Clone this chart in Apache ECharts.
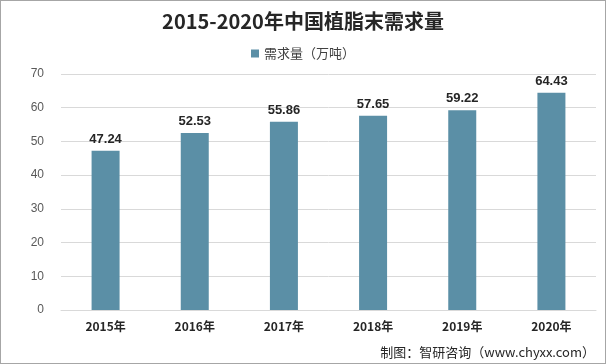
<!DOCTYPE html>
<html><head><meta charset="utf-8">
<script src="https://cdn.jsdelivr.net/npm/echarts@6/dist/echarts.min.js"></script>
<style>html,body{margin:0;padding:0;background:#fff}#c{width:606px;height:364px;box-sizing:border-box;border:1px solid #a6a6a6}</style>
</head><body><div id="c"></div>
<script>
const categories = ['2015年','2016年','2017年','2018年','2019年','2020年'];
const values = [47.24, 52.53, 55.86, 57.65, 59.22, 64.43];
const seriesName = '需求量（万吨）';
const chart = echarts.init(document.getElementById('c'));
chart.setOption({
  animation: false,
  title: {text: '2015-2020年中国植脂末需求量', left: 'center', top: 5,
    textStyle: {fontFamily: 'Noto Sans CJK SC', fontSize: 20, fontWeight: 'bold', color: '#262626'}},
  legend: {data: [seriesName], top: 41, left: 'center', itemWidth: 8, itemHeight: 8, icon: 'rect',
    textStyle: {fontFamily: 'Noto Sans CJK SC', fontSize: 13, color: '#404040'}},
  grid: {left: 60, right: 9, top: 73, bottom: 53},
  xAxis: {type: 'category', data: categories,
    axisLine: {lineStyle: {color: '#d9d9d9'}}, axisTick: {show: false},
    axisLabel: {fontFamily: 'Noto Sans CJK SC', fontSize: 12, fontWeight: 'bold', color: '#262626', margin: 10}},
  yAxis: {type: 'value', min: 0, max: 70, interval: 10,
    axisLine: {show: false}, axisTick: {show: false},
    splitLine: {lineStyle: {color: '#d9d9d9'}},
    axisLabel: {fontFamily: 'Liberation Sans', fontSize: 12, color: '#595959', margin: 17}},
  series: [{name: seriesName, type: 'bar', data: values, barWidth: 28,
    itemStyle: {color: '#5b8fa6'},
    label: {show: true, position: 'top', fontFamily: 'Liberation Sans', fontSize: 13, fontWeight: 'bold', color: '#262626'}}],
  graphic: [{type: 'text', right: 10, bottom: 4,
    style: {text: '制图：智研咨询（www.chyxx.com）', font: '13px "Noto Sans CJK SC"', fill: '#262626'}}]
});
</script></body></html>
